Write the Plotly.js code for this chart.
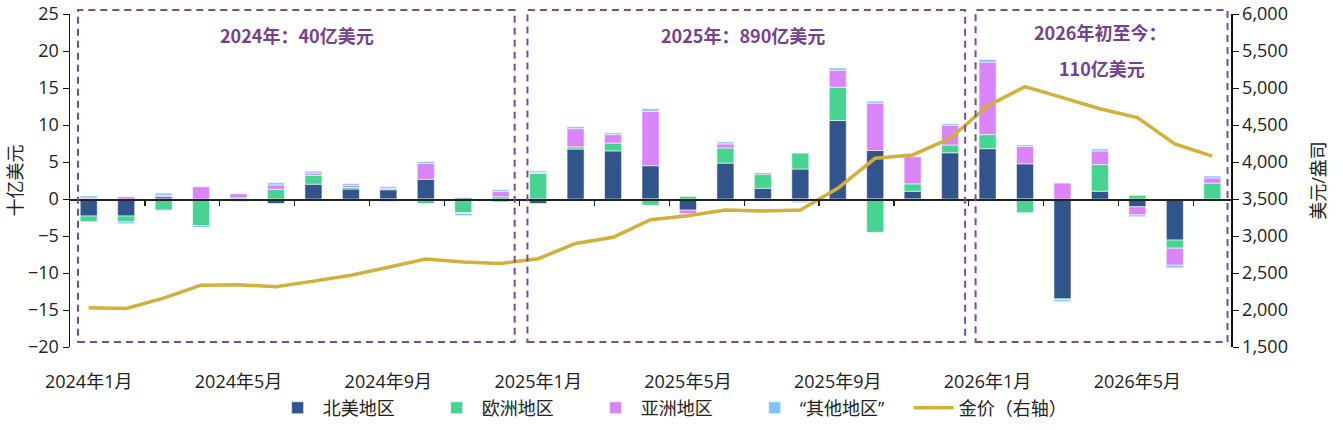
<!DOCTYPE html>
<html>
<head>
<meta charset="utf-8">
<script src="https://cdn.plot.ly/plotly-3.0.1.min.js"></script>
<style>body{margin:0;padding:0;background:#fff;} #chart{width:1343px;height:430px;}</style>
</head>
<body>
<div id="chart"></div>
<script>
var months = ["2024年1月","2024年2月","2024年3月","2024年4月","2024年5月","2024年6月","2024年7月","2024年8月","2024年9月","2024年10月","2024年11月","2024年12月",
"2025年1月","2025年2月","2025年3月","2025年4月","2025年5月","2025年6月","2025年7月","2025年8月","2025年9月","2025年10月","2025年11月","2025年12月",
"2026年1月","2026年2月","2026年3月","2026年4月","2026年5月","2026年6月","2026年7月"];
var tickLabels = ["2024年1月","2024年5月","2024年9月","2025年1月","2025年5月","2025年9月","2026年1月","2026年5月"];

var northAmerica = [-2.3,-2.3,0.3,0,0,-0.6,2.0,1.35,1.25,2.65,0.15,-0.35, -0.6,6.75,6.5,4.5,-1.5,4.85,1.45,4.05,10.6,6.55,1.05,6.25, 6.8,4.75,-13.5,1.05,-1.05,-5.55,0];
var europe = [-0.75,-0.8,-1.5,-3.6,0.15,1.3,1.2,0.2,-0.35,-0.6,-1.85,0.3, 3.45,0.3,1.05,-0.85,0.35,2.05,1.9,2.15,4.5,-4.5,1.0,1.05, 1.9,-1.85,-0.12,3.6,0.5,-1.1,2.15];
var asia = [0.1,0.3,0.2,1.65,0.55,0.6,0.3,0.3,0.15,2.15,-0.1,0.7, 0.15,2.45,1.15,7.35,-0.5,0.55,0.2,-0.3,2.3,6.4,3.65,2.65, 9.8,2.35,2.15,1.85,-1.1,-2.3,0.7];
var otherRegions = [0.3,-0.25,0.3,-0.25,-0.35,0.3,0.25,0.25,0.25,0.25,-0.3,0.25, 0.2,0.27,0.25,0.35,-0.1,0.27,-0.15,-0.2,0.3,0.27,-0.1,0.22, 0.35,0.22,-0.25,0.27,-0.25,-0.35,0.27];
var goldPrice = [2030,2020,2160,2335,2340,2315,2390,2470,2577,2690,2650,2630, 2693,2900,2982,3220,3275,3350,3338,3350,3644,4050,4095,4320, 4757,5018,4870,4720,4600,4243,4080];

var seriesNames = ["北美地区","欧洲地区","亚洲地区","“其他地区”","金价（右轴）"];
var colors = ["#31548A","#48D392","#D985F8","#80C6FB","#D4AF3A"];
var purple = "#76418F";

var barData = [northAmerica, europe, asia, otherRegions];
var traces = barData.map(function(vals, i){
  return {type:"bar", x:months, y:vals, name:seriesNames[i],
    marker:{color:colors[i], line:{color:"rgba(255,255,255,0.7)", width:0.8}}};
});
// month index positions for the overlay axis that carries the gold line and the date labels
var monthIndex = months.map(function(m, i){ return i; });
traces.push({type:"scatter", mode:"lines", x:monthIndex, y:goldPrice, name:seriesNames[4],
  xaxis:"x2", yaxis:"y2", line:{color:colors[4], width:3.5}});

var boundaryTicks = [];
for (var k = 1; k < months.length; k += 2) boundaryTicks.push(k + 0.5);
var labelPos = tickLabels.map(function(t){ return months.indexOf(t); });

var fontFam = "Open Sans, Noto Sans CJK SC, sans-serif";
var boxes = [[0.0069,0.383],[0.394,0.771],[0.780,0.997]];
var shapes = boxes.map(function(b){
  return {type:"rect", xref:"paper", yref:"paper", x0:b[0], x1:b[1], y0:0.015, y1:1.012,
    line:{color:"#7B4A9B", width:2, dash:"7px,5px"}, fillcolor:"rgba(0,0,0,0)", layer:"above"};
});

var annFont = {size:18, color:purple, family:"Noto Sans CJK SC"};
var layout = {
  width:1343, height:430,
  margin:{l:70, r:112, t:14, b:83},
  paper_bgcolor:"#fff", plot_bgcolor:"#fff",
  font:{family:fontFam, size:18, color:"#222"},
  barmode:"relative", bargap:0.545,
  showlegend:true,
  legend:{orientation:"h", xref:"container", yref:"container", x:0.203, xanchor:"left", y:0.051, yanchor:"middle",
    font:{size:18, color:"#222"}, itemwidth:40, entrywidth:104, traceorder:"normal", bgcolor:"rgba(0,0,0,0)"},
  xaxis:{type:"category", range:[-0.5,30.5], anchor:"free", position:20/45,
    tickvals:boundaryTicks, ticks:"outside", ticklen:5, tickwidth:1.2, tickcolor:"#222",
    showticklabels:false, showline:true, linecolor:"#222", linewidth:1.5, showgrid:false, zeroline:false},
  xaxis2:{type:"linear", overlaying:"x", anchor:"y", side:"bottom", range:[-0.5,30.5],
    tickvals:labelPos, ticktext:tickLabels,
    ticks:"outside", ticklen:18, tickcolor:"rgba(0,0,0,0)", showline:false, showgrid:false,
    zeroline:false, tickangle:0, tickfont:{size:18, color:"#222"}},
  yaxis:{range:[-20,25], dtick:5, tick0:0, showgrid:false, zeroline:false, showline:true,
    linecolor:"#111", linewidth:1.5, ticks:"outside", ticklen:6, tickcolor:"#111",
    tickfont:{size:18, color:"#222"},
    title:{text:"十亿美元", font:{size:18, color:"#222"}, standoff:0}},
  yaxis2:{overlaying:"y", side:"right", anchor:"x2", range:[1500,6000], dtick:500, tick0:1500, tickformat:",d",
    showgrid:false, zeroline:false, showline:true, linecolor:"#111", linewidth:1.5,
    ticks:"outside", ticklen:6, tickcolor:"#111", tickfont:{size:18, color:"#222"},
    title:{text:"美元/盎司", font:{size:18, color:"#222"}, standoff:25}},
  shapes:shapes,
  annotations:[
    {xref:"paper", yref:"paper", x:0.1955, y:0.937, xanchor:"center", yanchor:"middle", text:"<b>2024年：40亿美元</b>", showarrow:false, font:annFont},
    {xref:"paper", yref:"paper", x:0.580, y:0.937, xanchor:"center", yanchor:"middle", text:"<b>2025年：890亿美元</b>", showarrow:false, font:annFont},
    {xref:"paper", yref:"paper", x:0.887, y:0.946, xanchor:"center", yanchor:"middle", text:"<b>2026年初至今：</b>", showarrow:false, font:annFont},
    {xref:"paper", yref:"paper", x:0.889, y:0.838, xanchor:"center", yanchor:"middle", text:"<b>110亿美元</b>", showarrow:false, font:annFont}
  ]
};

Plotly.newPlot("chart", traces, layout, {displayModeBar:false, staticPlot:true});
</script>
</body>
</html>
